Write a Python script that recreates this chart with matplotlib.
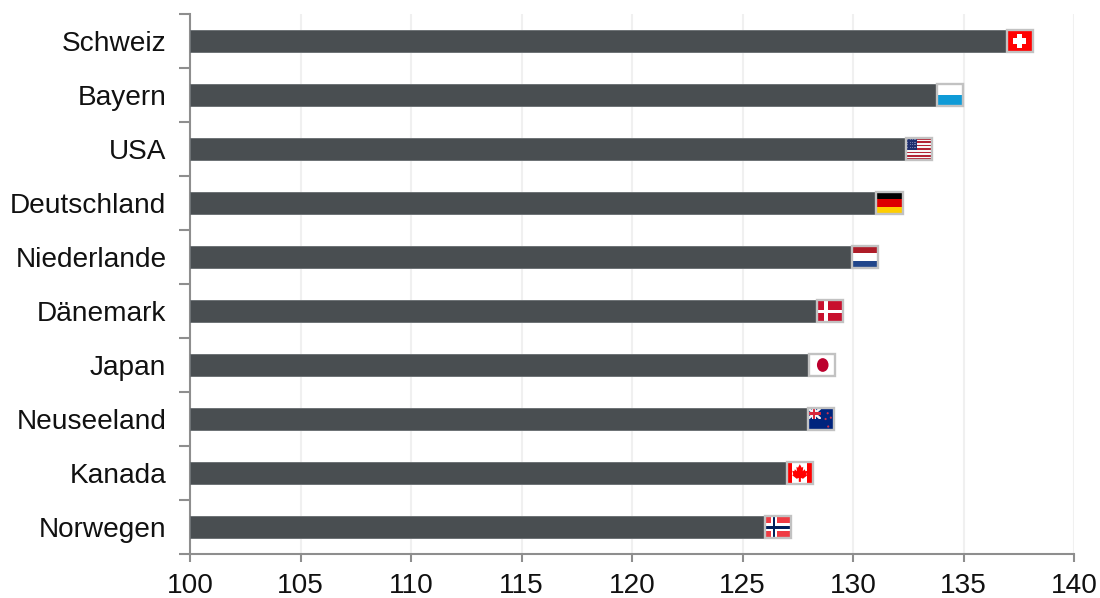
import numpy as np
import matplotlib.pyplot as plt
from matplotlib.patches import Rectangle, Polygon, Ellipse
from matplotlib.transforms import Affine2D

plt.rcParams["font.family"] = ["Liberation Sans", "DejaVu Sans"]

# DATA
countries = ["Schweiz", "Bayern", "USA", "Deutschland", "Niederlande",
             "Dänemark", "Japan", "Neuseeland", "Kanada", "Norwegen"]
values = [136.95, 133.8, 132.4, 131.05, 129.95, 128.35, 128.0, 127.95, 127.0, 126.0]
flags = ["ch", "by", "us", "de", "nl", "dk", "jp", "nz", "ca", "no"]
x_ticks = [100, 105, 110, 115, 120, 125, 130, 135, 140]

BAR_COLOR = "#494e51"
AXIS_COLOR = "#8e8e8e"
FLAG_W = 1.19
FLAG_H = 0.41


def rect(x, y, w, h, color):
    return Rectangle((x, y), w, h, facecolor=color, edgecolor="none")


def stripes(colors):
    n = len(colors)
    return [rect(0, i / n, 1, 1 / n, c) for i, c in enumerate(colors)]


def union_jack(w, h):
    red, white = "#d8283c", "#f4f4f4"
    parts = [rect(0, 0, w, h, "#00247d")]
    parts.append(Polygon([(0, 0), (w * 0.15, 0), (w, h * 0.85), (w, h), (w * 0.85, h), (0, h * 0.15)], facecolor=white))
    parts.append(Polygon([(w, 0), (w, h * 0.15), (w * 0.15, h), (0, h), (0, h * 0.85), (w * 0.85, 0)], facecolor=white))
    parts.append(rect(w * 0.36, 0, w * 0.28, h, white))
    parts.append(rect(0, h * 0.33, w, h * 0.34, white))
    parts.append(rect(w * 0.42, 0, w * 0.16, h, red))
    parts.append(rect(0, h * 0.4, w, h * 0.2, red))
    return parts


def flag_parts(code):
    if code == "ch":
        return [rect(0, 0, 1, 1, "#ff0000"), rect(0.41, 0.2, 0.18, 0.6, "white"), rect(0.26, 0.38, 0.48, 0.24, "white")]
    if code == "by":
        return stripes(["white", "#0f9bd7"])
    if code == "de":
        return stripes(["#000000", "#dd0000", "#ffce00"])
    if code == "nl":
        return stripes(["#ae1c28", "white", "#21468b"])
    if code == "dk":
        return [rect(0, 0, 1, 1, "#c8102e"), rect(0.3, 0, 0.15, 1, "white"), rect(0, 0.45, 1, 0.14, "white")]
    if code == "no":
        return [rect(0, 0, 1, 1, "#ef3b43"), rect(0.25, 0, 0.22, 1, "white"), rect(0, 0.34, 1, 0.32, "white"),
                rect(0.31, 0, 0.1, 1, "#00205b"), rect(0, 0.44, 1, 0.13, "#00205b")]
    if code == "jp":
        return [rect(0, 0, 1, 1, "white"), Ellipse((0.53, 0.5), 0.44, 0.62, facecolor="#bc002d")]
    if code == "us":
        band = ["#b22234" if i % 2 == 0 else "#f6f6f6" for i in range(13)]
        parts = stripes(band) + [rect(0, 0, 0.42, 7 / 13, "#1f2f6e")]
        for row in range(4):
            for col in range(4):
                parts.append(rect(0.05 + col * 0.09, 0.06 + row * 0.115, 0.04, 0.05, "#6d78a8"))
        return parts
    if code == "nz":
        parts = [rect(0, 0, 1, 1, "#00247d")] + union_jack(0.5, 0.5)
        for sx, sy in [(0.76, 0.24), (0.68, 0.5), (0.88, 0.44), (0.78, 0.84)]:
            parts.append(Ellipse((sx, sy), 0.08, 0.1, facecolor="#cc3350"))
        return parts
    if code == "ca":
        leaf = [(0.5, 0.1), (0.57, 0.26), (0.63, 0.22), (0.61, 0.42), (0.69, 0.33),
                (0.71, 0.42), (0.79, 0.4), (0.75, 0.56), (0.79, 0.6), (0.62, 0.76),
                (0.54, 0.72), (0.54, 0.9), (0.46, 0.9), (0.46, 0.72), (0.38, 0.76),
                (0.21, 0.6), (0.25, 0.56), (0.21, 0.4), (0.29, 0.42), (0.31, 0.33),
                (0.39, 0.42), (0.37, 0.22), (0.43, 0.26)]
        return [rect(0, 0, 1, 1, "white"), rect(0, 0, 0.22, 1, "#ff0000"),
                rect(0.78, 0, 0.22, 1, "#ff0000"), Polygon(leaf, facecolor="#ff0000")]
    return []


fig = plt.figure(figsize=(11, 5.98), dpi=100)
ax = fig.add_axes([190 / 1100, 1 - 554 / 598, 884 / 1100, 540 / 598])

y_pos = np.arange(len(countries))

# BARS
ax.barh(y_pos, np.array(values) - 100, left=100, height=0.4, color=BAR_COLOR,
        edgecolor="#6e7376", linewidth=0.7, zorder=3)

# FLAGS AT BAR ENDS
for y, val, code in zip(y_pos, values, flags):
    to_data = Affine2D().scale(FLAG_W, FLAG_H).translate(val, y - FLAG_H / 2) + ax.transData
    for part in flag_parts(code):
        part.set_transform(to_data)
        part.set_linewidth(0)
        part.set_zorder(4)
        ax.add_patch(part)
    frame = Rectangle((0, 0), 1, 1, transform=to_data, facecolor="none",
                      edgecolor="#c2c2c2", linewidth=1.7, zorder=5)
    ax.add_patch(frame)

# AXES
ax.set_xlim(100, 140)
ax.set_ylim(len(countries) - 0.5, -0.5)
ax.set_xticks(x_ticks)
ax.set_yticks(np.arange(len(countries) + 1) - 0.5)
ax.set_yticklabels([])
ax.set_yticks(y_pos, countries, minor=True, va="center_baseline")

ax.grid(axis="x", color="#f0f0f0", linewidth=1.5, zorder=0)
ax.set_axisbelow(True)

for side in ["top", "right"]:
    ax.spines[side].set_visible(False)
for side in ["left", "bottom"]:
    ax.spines[side].set_color(AXIS_COLOR)
    ax.spines[side].set_linewidth(1.5)

ax.tick_params(axis="x", which="major", length=6, width=1.5, color=AXIS_COLOR,
               labelsize=20.2, labelcolor="#111111", pad=7.5)
ax.tick_params(axis="y", which="major", length=8, width=1.5, color=AXIS_COLOR)
ax.tick_params(axis="y", which="minor", length=0, labelsize=20.2, labelcolor="#111111", pad=17)

fig.savefig("out.png", dpi=100)
